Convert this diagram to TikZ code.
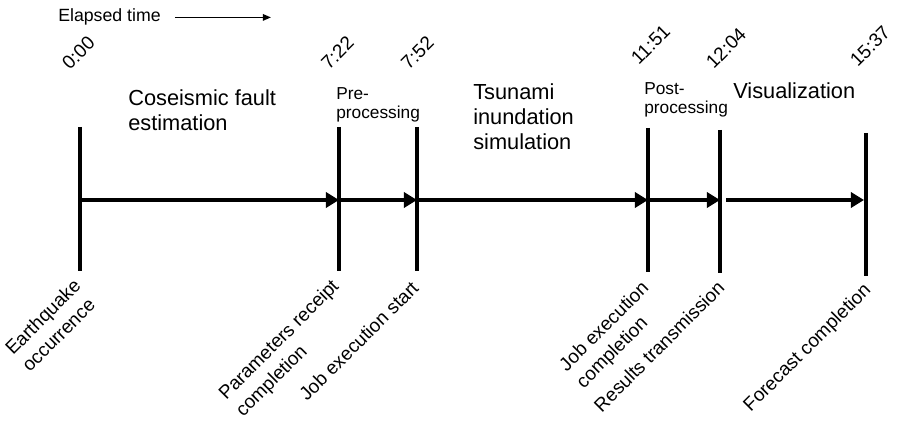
\documentclass[tikz,border=0pt]{standalone}
\usepackage{fontspec}
\setmainfont{Liberation Sans}
\usetikzlibrary{arrows.meta,calc}

\begin{document}
\begin{tikzpicture}[
    bar/.style={line width=0.1cm},
    arr/.style={-{Triangle[length=0.33cm,width=0.38cm]}, line width=0.1cm},
    tarr/.style={-{Triangle[length=0.2cm,width=0.16cm]}, line width=0.04cm},
    phase/.style={anchor=north west, inner sep=0pt, align=left, font=\fontsize{15.5}{18}\selectfont},
    subphase/.style={anchor=north west, inner sep=0pt, align=left, font=\fontsize{12.3}{13.5}\selectfont},
    tlbl/.style={anchor=south west, inner sep=0pt, rotate=45, font=\fontsize{13.5}{15}\selectfont},
    evt/.style={anchor=north east, inner sep=0pt, align=left, rotate=45, font=\fontsize{13.5}{17}\selectfont}
]
\useasboundingbox (0,0) rectangle (22.45,10.5);

% elapsed time
\node[anchor=base west, inner sep=0pt, font=\fontsize{12.6}{14}\selectfont] (et) at (1.45,9.95) {Elapsed time};
\coordinate (etend) at ($(et.east)+(2.75,0)$);
\draw[tarr] ([xshift=0.35cm]et.east) -- (etend);

% event bars
\foreach \n/\x/\t/\b in {0/2.0/7.325/3.725, 1/8.475/7.325/3.725, 2/10.425/7.325/3.725,
                        3/16.2/7.3/3.7, 4/18.0/7.25/3.675, 5/21.65/7.175/3.6} {
  \coordinate (top\n) at (\x,\t);
  \coordinate (bot\n) at (\x,\b);
  \coordinate (mid\n) at (\x,5.5);
  \draw[bar] (top\n) -- (bot\n);
}

% phases
\draw[arr] (mid0) -- (mid1);
\draw[arr, shorten <=0.05cm] (mid1) -- (mid2);
\draw[arr, shorten <=0.05cm] (mid2) -- (mid3);
\draw[arr, shorten <=0.05cm] (mid3) -- (mid4);
\draw[arr, shorten <=0.15cm, shorten >=0.05cm] (mid4) -- (mid5);

\node[phase] (cfe) at (3.2,8.275) {Coseismic fault\\estimation};
\node[subphase] (pre) at (8.4,8.325) {Pre-\\processing};
\node[phase] (tis) at (11.825,8.425) {Tsunami\\inundation\\simulation};
\node[subphase] (post) at (16.1,8.45) {Post-\\processing};
\node[phase] (vis) at (18.325,8.45) {Visualization};

% times
\node[tlbl] (t0) at (1.75,8.725) {0:00};
\node[tlbl] (t1) at (8.225,8.725) {7:22};
\node[tlbl] (t2) at (10.225,8.725) {7:52};
\node[tlbl] (t3) at (15.975,8.85) {11:51};
\node[tlbl] (t4) at (17.85,8.75) {12:04};
\node[tlbl] (t5) at (21.45,8.8) {15:37};

% events
\node[evt] (ev0) at (1.8,3.57) {Earthquake\\occurrence};
\node[evt] (ev1) at (8.25,3.57) {Parameters receipt\\completion};
\node[evt] (ev2) at (10.25,3.52) {Job execution start};
\node[evt] (ev3) at (16.0,3.52) {Job execution\\completion};
\node[evt] (ev4) at (17.9,3.52) {Results transmission};
\node[evt] (ev5) at (21.55,3.47) {Forecast completion};
\end{tikzpicture}
\end{document}
